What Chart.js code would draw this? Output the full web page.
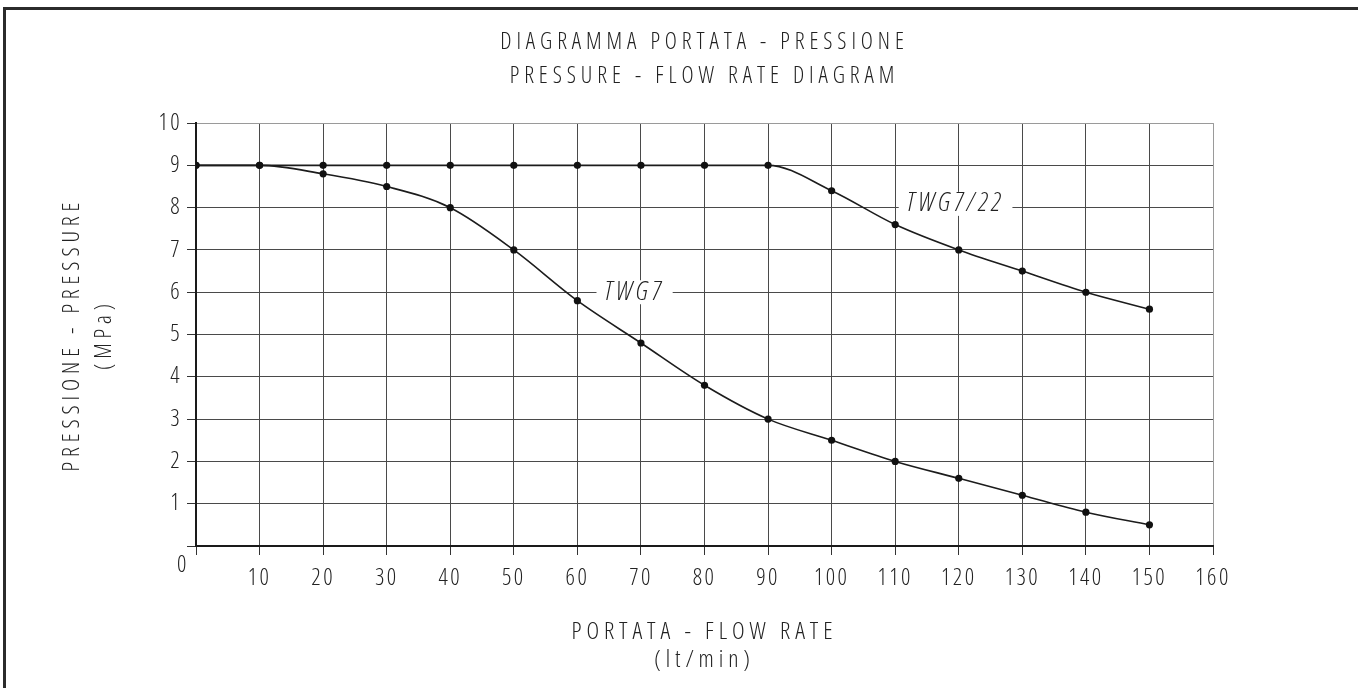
<!DOCTYPE html>
<html>
<head>
<meta charset="utf-8">
<title>Diagramma portata - pressione</title>
<script src="https://cdn.jsdelivr.net/npm/chart.js@4.4.1/dist/chart.umd.min.js"></script>
<style>
  html, body { margin: 0; padding: 0; background: #fff; }
  #frame {
    position: absolute; left: 3px; top: 7px; width: 1355px; height: 681px;
    border-top: 3px solid #2b2b2b; border-left: 3px solid #2b2b2b; box-sizing: border-box;
  }
  #pressureChart { position: absolute; left: 0; top: 0; }
</style>
</head>
<body>
<div id="frame"></div>
<canvas id="pressureChart" width="1358" height="688"></canvas>
<script>
// ---------------------------------------
// DATA
// ---------------------------------------
const flowRates = [0, 10, 20, 30, 40, 50, 60, 70, 80, 90, 100, 110, 120, 130, 140, 150];
const pressureTWG7 = [9, 9, 8.8, 8.5, 8.0, 7.0, 5.8, 4.8, 3.8, 3.0, 2.5, 2.0, 1.6, 1.2, 0.8, 0.5];
const pressureTWG722 = [9, 9, 9, 9, 9, 9, 9, 9, 9, 9, 8.4, 7.6, 7.0, 6.5, 6.0, 5.6];
const curveNames = ["TWG7", "TWG7/22"];

// thin, narrow lettering like the technical drawing
const FONT = "'Open Sans', 'DejaVu Sans Condensed', sans-serif";
const WEIGHT = "300 condensed";
const INK = "#222";
const TICK_SPACING = "2.4px";
const TITLE_SPACING = "4.9px";
const LABEL_SPACING = "3.6px";

Chart.defaults.font.family = FONT;
Chart.defaults.font.size = 23;
Chart.defaults.font.weight = WEIGHT;
Chart.defaults.color = INK;

function toPoints(ys) {
    return flowRates.map((f, i) => ({ x: f, y: ys[i] }));
}

// run a draw function with wider lettering
function spaced(chart, fn) {
    return function (...args) {
        chart.ctx.letterSpacing = TITLE_SPACING;
        fn.apply(this, args);
        chart.ctx.letterSpacing = TICK_SPACING;
    };
}

// letter spacing + origin "0" + curve names
const drawingText = {
    id: "drawingText",
    beforeUpdate(chart) { chart.ctx.letterSpacing = TICK_SPACING; },
    afterLayout(chart) {
        if (chart.$spaced) return;
        chart.$spaced = true;
        chart.titleBlock.draw = spaced(chart, chart.titleBlock.draw);
        chart.scales.x.drawTitle = spaced(chart, chart.scales.x.drawTitle);
        chart.scales.y.drawTitle = spaced(chart, chart.scales.y.drawTitle);
    },
    beforeDraw(chart) { chart.ctx.letterSpacing = TICK_SPACING; },
    beforeDatasetsDraw(chart, args, opts) {
        const { ctx, scales: { x, y } } = chart;
        ctx.save();
        ctx.letterSpacing = LABEL_SPACING;
        ctx.font = "italic " + WEIGHT + " 26px " + FONT;
        ctx.textAlign = "center";
        ctx.textBaseline = "middle";
        opts.anchors.forEach((a, i) => {
            const px = x.getPixelForValue(a.x);
            const py = y.getPixelForValue(a.y);
            const w = ctx.measureText(curveNames[i]).width;
            ctx.fillStyle = "#fff";
            ctx.fillRect(px - w / 2 - 8, py - 12, w + 16, 24);
            ctx.fillStyle = INK;
            ctx.fillText(curveNames[i], px, py);
        });
        ctx.restore();
    },
    afterDraw(chart) {
        const { ctx, scales: { x, y } } = chart;
        ctx.save();
        ctx.font = WEIGHT + " 23px " + FONT;
        ctx.fillStyle = INK;
        ctx.textAlign = "center";
        ctx.textBaseline = "middle";
        ctx.fillText("0", x.getPixelForValue(0) - 13, y.getPixelForValue(0) + 19);
        ctx.restore();
    }
};

const pressureChart = new Chart(
document.getElementById("pressureChart"),
{
    type: "line",

    data: {
        datasets: [
            {
                label: curveNames[0],
                data: toPoints(pressureTWG7),
                borderColor: "#1c1c1c",
                borderWidth: 1.6,
                pointRadius: 3.6,
                pointBackgroundColor: "#111",
                pointBorderWidth: 0,
                cubicInterpolationMode: "monotone"
            },
            {
                label: curveNames[1],
                data: toPoints(pressureTWG722),
                borderColor: "#1c1c1c",
                borderWidth: 1.6,
                pointRadius: 3.6,
                pointBackgroundColor: "#111",
                pointBorderWidth: 0,
                cubicInterpolationMode: "monotone"
            }
        ]
    },

    options: {
        responsive: false,
        animation: false,
        layout: { padding: { left: 0, right: 145, top: 0, bottom: 0 } },

        scales: {
            x: {
                type: "linear",
                min: 0,
                max: 160,
                afterFit(scale) { scale.height = 142; },
                ticks: {
                    stepSize: 10,
                    autoSkip: false,
                    maxRotation: 0,
                    padding: 10,
                    callback: v => (v === 0 ? "" : v)
                },
                grid: {
                    color: c => (c.tick && c.tick.value === 160 ? "#9a9a9a" : "#4a4a4a"),
                    lineWidth: 1,
                    tickLength: 9,
                    tickColor: "#333"
                },
                border: { color: "#1a1a1a", width: 2 },
                title: {
                    display: true,
                    text: ["PORTATA - FLOW RATE", "(lt/min)"],
                    font: { size: 24, lineHeight: 1.17 },
                    padding: { top: 0, bottom: 14 }
                }
            },
            y: {
                min: 0,
                max: 10,
                afterFit(scale) { scale.width = 196; },
                ticks: {
                    stepSize: 1,
                    padding: 5,
                    callback: v => (v === 0 ? "" : v)
                },
                grid: {
                    color: c => (c.tick && c.tick.value === 10 ? "#9a9a9a" : "#4a4a4a"),
                    lineWidth: 1,
                    tickLength: 9,
                    tickColor: "#333"
                },
                border: { color: "#1a1a1a", width: 2 },
                title: {
                    display: true,
                    text: ["PRESSIONE - PRESSURE", "(MPa)"],
                    font: { size: 23, lineHeight: 1.39 },
                    padding: { top: 56, bottom: 0 }
                }
            }
        },

        plugins: {
            legend: { display: false },
            tooltip: { enabled: false },
            title: {
                display: true,
                fullSize: false,
                text: ["DIAGRAMMA PORTATA - PRESSIONE", "PRESSURE - FLOW RATE DIAGRAM"],
                font: { size: 23, weight: WEIGHT, lineHeight: 1.48 },
                color: INK,
                padding: { top: 25, bottom: 30 }
            },
            drawingText: {
                anchors: [ { x: 69, y: 6 }, { x: 119.5, y: 8.09 } ]
            }
        }
    },

    plugins: [drawingText]
});
</script>
</body>
</html>
